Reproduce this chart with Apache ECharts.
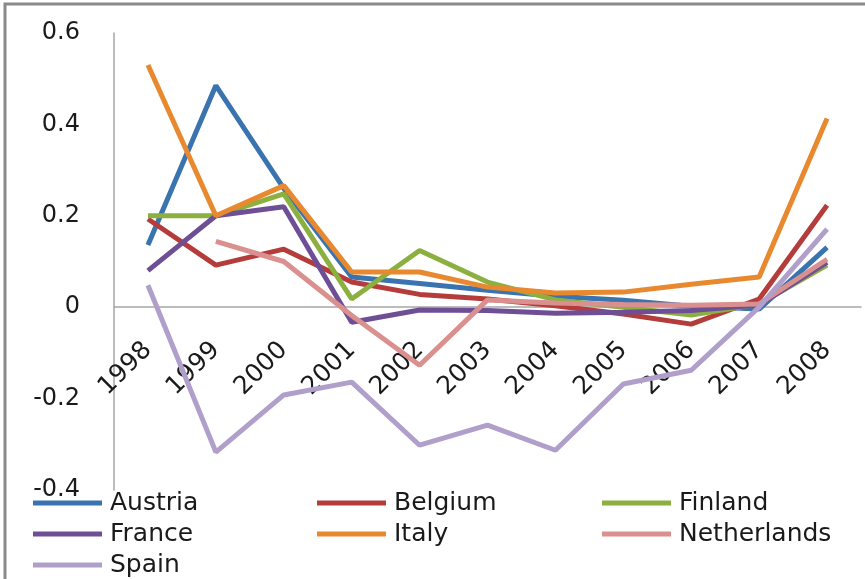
<!DOCTYPE html>
<html>
<head>
    <meta charset="utf-8">
    <title>Chart</title>
    <style>
        html, body { margin: 0; padding: 0; background: #fff; }
    </style>
</head>
<body>
    <div id="main" style="width: 865px;height:579px;"></div>
</body>
<script src="https://cdn.jsdelivr.net/npm/echarts@6/dist/echarts.min.js"></script>
<script>
// data
var years = ['1998', '1999', '2000', '2001', '2002', '2003', '2004', '2005', '2006', '2007', '2008'];

var austria     = [0.136, 0.485, 0.26, 0.066, 0.052, 0.037, 0.024, 0.015, 0.002, -0.004, 0.131];
var belgium     = [0.193, 0.092, 0.127, 0.055, 0.028, 0.018, 0.003, -0.015, -0.037, 0.018, 0.223];
var finland     = [0.20, 0.20, 0.248, 0.018, 0.124, 0.055, 0.016, 0.0, -0.017, 0.007, 0.092];
var france      = [0.08, 0.20, 0.22, -0.033, -0.006, -0.007, -0.013, -0.011, -0.007, 0.005, 0.098];
var italy       = [0.53, 0.20, 0.266, 0.077, 0.077, 0.044, 0.031, 0.033, 0.05, 0.066, 0.413];
var netherlands = [null, 0.144, 0.10, -0.018, -0.127, 0.016, 0.009, 0.006, 0.004, 0.007, 0.105];
var spain       = [0.048, -0.317, -0.192, -0.164, -0.302, -0.258, -0.313, -0.168, -0.138, 0.0, 0.171];

var names  = ['Austria', 'Belgium', 'Finland', 'France', 'Italy', 'Netherlands', 'Spain'];
var values = [austria, belgium, finland, france, italy, netherlands, spain];
var colors = ['#3a74b0', '#b43c3a', '#8bb040', '#6e4f96', '#e8892f', '#d9908e', '#b09fca'];

var yMin = -0.4, yMax = 0.6;
var gridTop = 33, gridBottom = 89, chartH = 579;
// move the category axis up to the zero line
var plotH = chartH - gridTop - gridBottom;
var zeroOffset = -plotH * (0 - yMin) / (yMax - yMin);

var myChart = echarts.init(document.getElementById('main'));

var seriesData = [];
for (var i = 0; i < names.length; i++) {
    seriesData.push({
        name: names[i],
        type: 'line',
        data: values[i],
        symbol: 'none',
        connectNulls: false,
        animation: false,
        lineStyle: { width: 5, color: colors[i] },
        itemStyle: { color: colors[i] }
    });
}

// legend laid out in three columns like the original, one legend per item
var colX = [33, 317, 602];
var rowY = [503, 534, 565];
var legends = [];
for (var k = 0; k < names.length; k++) {
    legends.push({
        data: [names[k]],
        left: colX[k % 3],
        top: rowY[Math.floor(k / 3)] - 13,
        icon: 'rect',
        itemWidth: 69,
        itemHeight: 5,
        padding: 0,
        textStyle: {
            fontFamily: 'DejaVu Sans',
            fontSize: 25,
            lineHeight: 26,
            color: '#1a1a1a',
            padding: [0, 0, 0, 3]
        }
    });
}

myChart.setOption({
    color: colors,
    textStyle: { fontFamily: 'DejaVu Sans' },
    grid: {
        left: 114,
        right: 4,
        top: gridTop,
        bottom: gridBottom
    },
    legend: legends,
    xAxis: {
        type: 'category',
        data: years,
        position: 'bottom',
        offset: zeroOffset,
        boundaryGap: true,
        axisLine: { onZero: false, lineStyle: { color: '#a6a6a6', width: 1.5 } },
        axisTick: { show: false },
        axisLabel: {
            interval: 0,
            rotate: 45,
            margin: 39,
            fontFamily: 'DejaVu Sans',
            fontSize: 25,
            color: '#1a1a1a'
        },
        splitLine: { show: false }
    },
    yAxis: {
        type: 'value',
        min: yMin,
        max: yMax,
        interval: 0.2,
        axisLine: { show: true, lineStyle: { color: '#a6a6a6', width: 1.5 } },
        axisTick: { show: false },
        splitLine: { show: false },
        axisLabel: {
            margin: 34,
            fontFamily: 'DejaVu Sans',
            fontSize: 24,
            color: '#1a1a1a',
            formatter: function (v) {
                return String(Math.round(v * 10) / 10);
            }
        }
    },
    graphic: [{
        type: 'rect',
        silent: true,
        shape: { x: 5, y: 4, width: 900, height: 600 },
        style: { fill: 'none', stroke: '#8a8a8a', lineWidth: 3 }
    }],
    series: seriesData
});
</script>
</html>
